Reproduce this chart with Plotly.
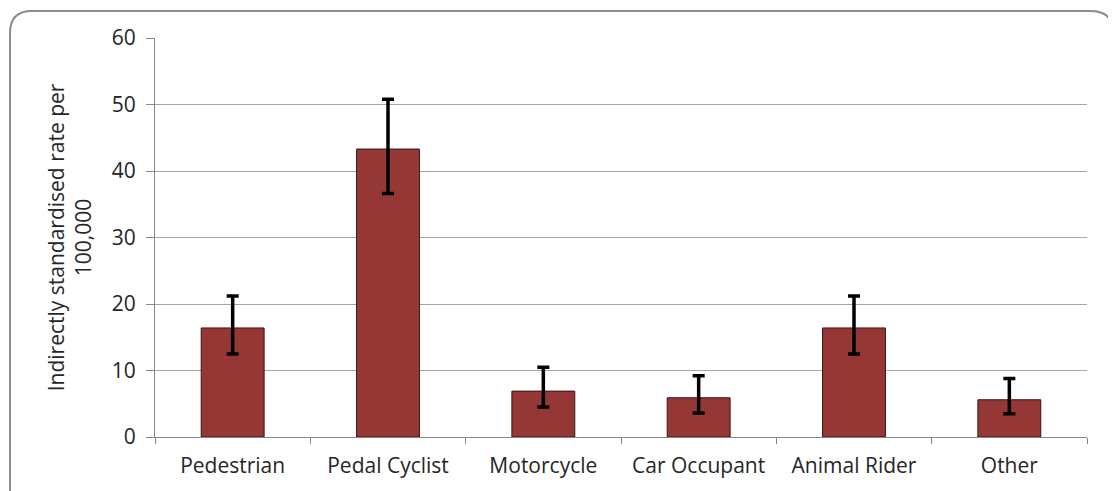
import plotly.graph_objects as go

categories = ['Pedestrian', 'Pedal Cyclist', 'Motorcycle', 'Car Occupant', 'Animal Rider', 'Other']
rates = [16.4, 43.3, 6.9, 5.9, 16.4, 5.6]
upper = [21.2, 50.8, 10.5, 9.2, 21.2, 8.8]
lower = [12.5, 36.6, 4.5, 3.6, 12.5, 3.5]

err_plus = [u - r for u, r in zip(upper, rates)]
err_minus = [r - l for r, l in zip(rates, lower)]

# page body has an 8px margin, so the figure sits at (8, 8)
OFF = 8
W, H = 1116 - OFF, 491 - OFF
L, R, T, B = 155 - OFF, 29, 38 - OFF, 54
pw, ph = W - L - R, H - T - B

def px_x(p):
    return (p - OFF - L) / pw

def px_y(p):
    return (H - B - (p - OFF)) / ph

fig = go.Figure()
fig.add_trace(go.Bar(
    x=categories, y=rates, width=0.405,
    marker=dict(color='#953735', line=dict(color='#3a1616', width=1)),
    error_y=dict(type='data', symmetric=False, array=err_plus, arrayminus=err_minus,
                 color='black', thickness=3.5, width=6),
))

# rounded chart frame
x0, x1, y0, y1, r = 10, 1113, 11, 520, 22
rx, ry = r / pw, r / ph
a, b = px_x(x0), px_x(x1)
top, bot = px_y(y0), px_y(y1)
path = (f"M {a + rx},{top} L {b - rx},{top} Q {b},{top} {b},{top - ry} "
        f"L {b},{bot + ry} Q {b},{bot} {b - rx},{bot} L {a + rx},{bot} "
        f"Q {a},{bot} {a},{bot + ry} L {a},{top - ry} Q {a},{top} {a + rx},{top} Z")
fig.add_shape(type='path', path=path, xref='paper', yref='paper',
              line=dict(color='#8c8c8c', width=2), layer='below')

font = "'Open Sans', Lato, sans-serif"
fig.update_layout(
    width=W, height=H,
    margin=dict(l=L, r=R, t=T, b=B),
    plot_bgcolor='white', paper_bgcolor='white',
    showlegend=False,
    font=dict(family=font, size=21, color='#262626'),
    xaxis=dict(showgrid=False, showline=True, linecolor='#868686', linewidth=1,
               ticks='outside', tickson='boundaries', ticklen=6, tickcolor='#868686',
               tickfont=dict(size=21), ticklabelstandoff=10, zeroline=False),
    yaxis=dict(range=[0, 60], dtick=10, showgrid=True, gridcolor='#a6a6a6', gridwidth=1,
               showline=True, linecolor='#868686', linewidth=1,
               ticks='outside', ticklen=8, tickcolor='#868686',
               tickfont=dict(size=21), ticklabelstandoff=6, zeroline=False,
               title=dict(text='Indirectly standardised rate per<br>100,000',
                          font=dict(size=21), standoff=14)),
)

fig.write_html("out.html")
